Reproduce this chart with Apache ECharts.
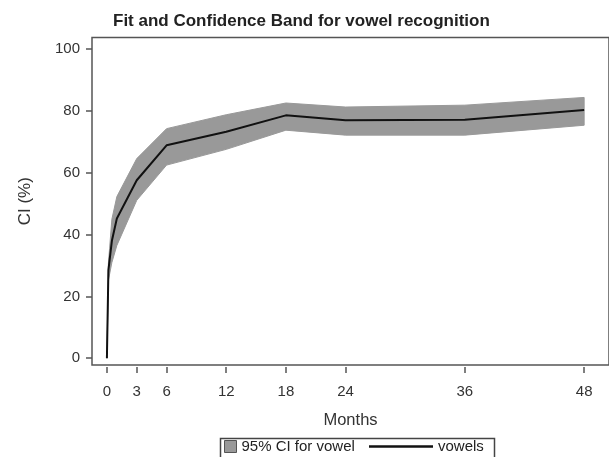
<!DOCTYPE html>
<html>
<head>
<meta charset="utf-8">
<script src="https://cdn.jsdelivr.net/npm/echarts@6/dist/echarts.min.js"></script>
<style>html,body{margin:0;padding:0;background:#fff;}#c{width:609px;height:457px;}</style>
</head>
<body>
<div id="c"></div>
<script>
const months = [0, 0.15, 0.5, 1, 3, 6, 12, 18, 24, 36, 48];
const fitValues = [0, 28.5, 38, 45.2, 57.6, 68.9, 73.3, 78.6, 77.0, 77.2, 80.3];
const upperCI = [0, 30.7, 45, 52.3, 64.6, 74.3, 78.8, 82.6, 81.3, 81.9, 84.4];
const lowerCI = [0, 25.2, 31, 36.5, 51.1, 62.5, 67.6, 73.8, 72.2, 72.2, 75.4];
const xTicks = [0, 3, 6, 12, 18, 24, 36, 48];
const yTicks = [0, 20, 40, 60, 80, 100];
const titleText = 'Fit and Confidence Band for vowel recognition';
const bandName = '95% CI for vowel';
const lineName = 'vowels';

const chart = echarts.init(document.getElementById('c'), null, {renderer: 'canvas'});
const font = 'Liberation Sans, Arial, sans-serif';
const lineData = months.map((m, i) => [m, fitValues[i]]);

chart.setOption({
  animation: false,
  backgroundColor: '#fff',
  title: {
    text: titleText, left: 108, top: 8,
    textStyle: {fontFamily: font, fontWeight: 'bold', fontSize: 17, color: '#222'}
  },
  grid: {
    left: 92, top: 37.5, width: 524, height: 327.5,
    show: true, borderColor: '#555', borderWidth: 1.5, backgroundColor: '#fff'
  },
  xAxis: {
    type: 'value', min: -1.5, max: 50.5, offset: 2,
    name: 'Months', nameLocation: 'middle', nameGap: 45,
    nameTextStyle: {fontFamily: font, fontSize: 16.5, color: '#333'},
    axisLine: {show: false, onZero: false},
    axisTick: {show: true, length: 6, customValues: xTicks, lineStyle: {color: '#555', width: 1.5}},
    axisLabel: {customValues: xTicks, margin: 17, fontFamily: font, fontSize: 15, color: '#333'},
    splitLine: {show: false}
  },
  yAxis: {
    type: 'value', min: -2.2, max: 103.8,
    name: 'CI (%)', nameLocation: 'middle', nameGap: 58,
    nameTextStyle: {fontFamily: font, fontSize: 17, color: '#333'},
    axisLine: {show: false, onZero: false},
    axisTick: {show: true, length: 6, customValues: yTicks, lineStyle: {color: '#555', width: 1.5}},
    axisLabel: {customValues: yTicks, margin: 12, fontFamily: font, fontSize: 15, color: '#333'},
    splitLine: {show: false}
  },
  legend: [
    {
      data: [{name: bandName, icon: 'rect', itemStyle: {color: '#999', borderColor: '#555', borderWidth: 1}}],
      left: 224, top: 439, itemWidth: 12, itemHeight: 12, padding: 0,
      textStyle: {fontFamily: font, fontSize: 15, color: '#222'}, selectedMode: false
    },
    {
      data: [{name: lineName, icon: 'rect', itemStyle: {color: '#111'}}],
      left: 369, top: 439, itemWidth: 64, itemHeight: 2.5, padding: 0,
      textStyle: {fontFamily: font, fontSize: 15, color: '#222'}, selectedMode: false
    }
  ],
  graphic: [{
    type: 'rect', left: 218, top: 436, shape: {width: 274, height: 20},
    style: {fill: 'none', stroke: '#444', lineWidth: 1.5}, z: 100, silent: true
  }],
  series: [
    {
      name: bandName,
      type: 'custom',
      coordinateSystem: 'cartesian2d',
      itemStyle: {color: '#999'},
      data: [[0, 0]],
      renderItem: function (params, api) {
        const pts = [];
        for (let i = 0; i < months.length; i++) pts.push(api.coord([months[i], upperCI[i]]));
        for (let i = months.length - 1; i >= 0; i--) pts.push(api.coord([months[i], lowerCI[i]]));
        return {type: 'polygon', shape: {points: pts}, style: {fill: '#999', stroke: '#999', lineWidth: 1}};
      },
      z: 2
    },
    {
      name: lineName,
      type: 'line',
      data: lineData,
      symbol: 'none',
      lineStyle: {color: '#111', width: 2},
      itemStyle: {color: '#111'},
      z: 3
    }
  ]
});
</script>
</body>
</html>
